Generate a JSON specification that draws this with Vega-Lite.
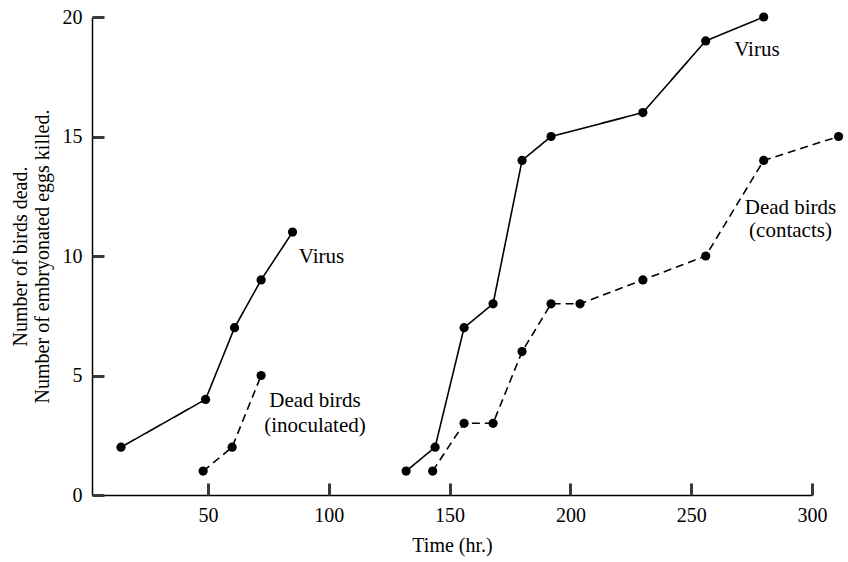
{
  "$schema": "https://vega.github.io/schema/vega-lite/v6.json",
  "width": 720,
  "height": 478,
  "autosize": {"type": "none"},
  "padding": {"left": 92, "top": 17, "right": 36, "bottom": 67},
  "background": "white",
  "config": {
    "view": {"stroke": null},
    "font": "Liberation Serif",
    "axis": {
      "grid": false,
      "domainColor": "black",
      "domainWidth": 1.5,
      "labelColor": "black",
      "labelFont": "Liberation Serif",
      "labelFontSize": 20,
      "titleColor": "black",
      "titleFont": "Liberation Serif",
      "titleFontSize": 20,
      "titleFontWeight": "normal"
    }
  },
  "datasets": {
    "series": [
      {"group": "virus1", "style": "solid", "time": 14, "count": 2},
      {"group": "virus1", "style": "solid", "time": 49, "count": 4},
      {"group": "virus1", "style": "solid", "time": 61, "count": 7},
      {"group": "virus1", "style": "solid", "time": 72, "count": 9},
      {"group": "virus1", "style": "solid", "time": 85, "count": 11},
      {"group": "inoculated", "style": "dashed", "time": 48, "count": 1},
      {"group": "inoculated", "style": "dashed", "time": 60, "count": 2},
      {"group": "inoculated", "style": "dashed", "time": 72, "count": 5},
      {"group": "virus2", "style": "solid", "time": 132, "count": 1},
      {"group": "virus2", "style": "solid", "time": 144, "count": 2},
      {"group": "virus2", "style": "solid", "time": 156, "count": 7},
      {"group": "virus2", "style": "solid", "time": 168, "count": 8},
      {"group": "virus2", "style": "solid", "time": 180, "count": 14},
      {"group": "virus2", "style": "solid", "time": 192, "count": 15},
      {"group": "virus2", "style": "solid", "time": 230, "count": 16},
      {"group": "virus2", "style": "solid", "time": 256, "count": 19},
      {"group": "virus2", "style": "solid", "time": 280, "count": 20},
      {"group": "contacts", "style": "dashed", "time": 143, "count": 1},
      {"group": "contacts", "style": "dashed", "time": 156, "count": 3},
      {"group": "contacts", "style": "dashed", "time": 168, "count": 3},
      {"group": "contacts", "style": "dashed", "time": 180, "count": 6},
      {"group": "contacts", "style": "dashed", "time": 192, "count": 8},
      {"group": "contacts", "style": "dashed", "time": 204, "count": 8},
      {"group": "contacts", "style": "dashed", "time": 230, "count": 9},
      {"group": "contacts", "style": "dashed", "time": 256, "count": 10},
      {"group": "contacts", "style": "dashed", "time": 280, "count": 14},
      {"group": "contacts", "style": "dashed", "time": 311, "count": 15}
    ],
    "labels": [
      {"time": 97, "count": 9.96, "label": "Virus"},
      {"time": 94.3, "count": 3.93, "label": "Dead birds"},
      {"time": 94.3, "count": 2.89, "label": "(inoculated)"},
      {"time": 277.2, "count": 18.6, "label": "Virus"},
      {"time": 291.1, "count": 12.0, "label": "Dead birds"},
      {"time": 291.1, "count": 11.05, "label": "(contacts)"}
    ]
  },
  "resolve": {"axis": {"x": "independent", "y": "independent"}},
  "layer": [
    {
      "data": {"name": "series"},
      "mark": {"type": "line", "color": "black", "strokeWidth": 1.6},
      "encoding": {
        "x": {
          "field": "time", "type": "quantitative",
          "scale": {"domain": [2, 300], "nice": false, "zero": false},
          "axis": {"orient": "bottom", "values": [50, 100, 150, 200, 250, 300], "title": "Time (hr.)", "ticks": false, "labelFlush": false, "labelPadding": 10, "titlePadding": 10}
        },
        "y": {
          "field": "count", "type": "quantitative",
          "scale": {"domain": [0, 20], "nice": false},
          "axis": {"orient": "left", "values": [0, 5, 10, 15, 20], "title": ["Number of birds dead.", "Number of embryonated eggs killed."], "ticks": false, "labelFlush": false, "labelPadding": 10, "titlePadding": 10}
        },
        "detail": {"field": "group"},
        "strokeDash": {
          "field": "style", "type": "nominal",
          "scale": {"domain": ["solid", "dashed"], "range": [[1, 0], [8, 5]]},
          "legend": null
        }
      }
    },
    {
      "data": {"name": "series"},
      "mark": {"type": "point", "filled": true, "color": "black", "opacity": 1, "size": 85},
      "encoding": {
        "x": {
          "field": "time", "type": "quantitative",
          "axis": {"orient": "bottom", "offset": -12, "values": [50, 100, 150, 200, 250, 300], "domain": false, "labels": false, "title": null, "ticks": true, "tickSize": 12, "tickColor": "#3a3a3a", "tickWidth": 3, "tickOpacity": 1}
        },
        "y": {
          "field": "count", "type": "quantitative",
          "axis": {"orient": "left", "offset": -12, "values": [0, 5, 10, 15, 20], "domain": false, "labels": false, "title": null, "ticks": true, "tickSize": 12, "tickColor": "#3a3a3a", "tickWidth": 3, "tickOpacity": 1}
        }
      }
    },
    {
      "data": {"name": "labels"},
      "mark": {"type": "text", "font": "Liberation Serif", "fontSize": 21, "color": "black", "align": "center", "baseline": "middle"},
      "encoding": {
        "x": {"field": "time", "type": "quantitative", "axis": null},
        "y": {"field": "count", "type": "quantitative", "axis": null},
        "text": {"field": "label"}
      }
    }
  ]
}
